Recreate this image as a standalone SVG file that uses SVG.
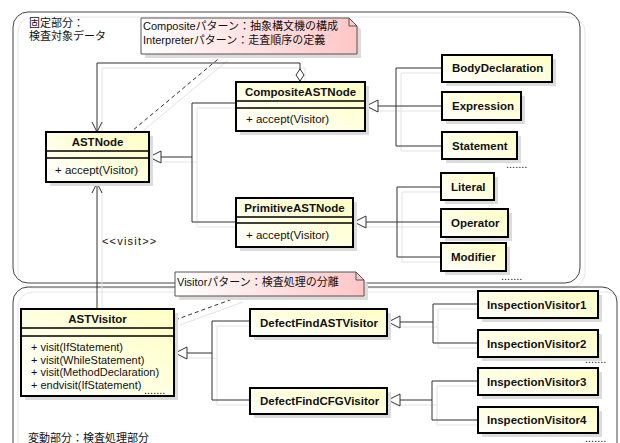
<svg xmlns="http://www.w3.org/2000/svg" width="620" height="443" viewBox="0 0 620 443">
  <style>
    .t{font-family:"Liberation Sans","Noto Sans CJK JP",sans-serif;font-size:11px;fill:#111}
    .c{font-size:11.5px}
    .b{font-weight:bold}
    .mid{text-anchor:middle}
    .box{fill:url(#cls);stroke:#000;stroke-width:2}
    .shd{fill:#dcdcdc}
    .sep{stroke:#000;stroke-width:1.5}
    .note{fill:url(#pink);stroke:#555;stroke-width:1}
    .fold{fill:none;stroke:#555;stroke-width:1}
    .conn{fill:none;stroke:#333;stroke-width:1}
    .dash{stroke-dasharray:4 3}
    .cshd{fill:none;stroke:#e3e3e3;stroke-width:1}
    .frame{fill:none;stroke:#444;stroke-width:1}
    .frameshd{fill:none;stroke:#e6e6e6;stroke-width:1}
  </style>
  <defs>
    <linearGradient id="cls" x1="0" y1="1" x2="1" y2="0">
      <stop offset="0" stop-color="#ffffff"/>
      <stop offset="1" stop-color="#ffffc2"/>
    </linearGradient>
    <linearGradient id="pink" x1="0" y1="0" x2="1" y2="0">
      <stop offset="0" stop-color="#ffffff"/>
      <stop offset="1" stop-color="#ffc6c6"/>
    </linearGradient>
    <marker id="tri" markerUnits="userSpaceOnUse" markerWidth="14" markerHeight="14" refX="12" refY="6" orient="auto" overflow="visible">
      <path d="M0,0 L12,6 L0,12 Z" fill="#fff" stroke="#333" stroke-width="1"/>
    </marker>
    <marker id="open" markerUnits="userSpaceOnUse" markerWidth="12" markerHeight="12" refX="10" refY="5" orient="auto" overflow="visible">
      <path d="M0,0 L10,5 L0,10" fill="none" stroke="#333" stroke-width="1"/>
    </marker>
    <marker id="dia" markerUnits="userSpaceOnUse" markerWidth="14" markerHeight="10" refX="0" refY="4" orient="auto" overflow="visible">
      <path d="M0,4 L6,0 L12,4 L6,8 Z" fill="#fff" stroke="#333" stroke-width="1"/>
    </marker>
  </defs>

  <rect width="620" height="443" fill="#fff"/>

  <!-- packages / frames -->
  <g id="frames">
    <rect class="frameshd" x="18" y="17" width="567" height="271" rx="15"/>
    <rect class="frameshd" x="18" y="292" width="604" height="180" rx="15"/>
    <rect class="frame" x="13" y="12" width="567" height="271" rx="15"/>
    <rect class="frame" x="13" y="287" width="604" height="180" rx="15"/>
    <text class="t" x="29" y="27">固定部分：</text>
    <text class="t" x="29" y="40">検査対象データ</text>
    <text class="t" x="28" y="442">変動部分：検査処理部分</text>
  </g>

  <!-- connectors -->
  <g id="connectors">
    <g class="cshd" transform="translate(5,5)">
      <path d="M300,81 V63 H97 V132"/>
      <path d="M97,309 V183"/>
      <path d="M192,157 H149 M236,103 H192 V222 H236"/>
      <path d="M442,106 H366 M442,68 H396 V146 H442"/>
      <path d="M441,222 H354 M441,187 H397 V257 H441"/>
      <path d="M212,353 H175 M250,321 H212 V400 H250"/>
      <path d="M433,322 H388 M478,304 H433 V343 H478"/>
      <path d="M432,400 H388 M478,381 H432 V420 H478"/>
      <path d="M223,55 L132,131"/>
      <path d="M238,297 L175,320"/>
    </g>
    <g class="conn">
      <!-- aggregation CompositeASTNode -> ASTNode -->
      <path d="M300,81 V63 H97 V132" marker-start="url(#dia)" marker-end="url(#open)"/>
      <!-- <<visit>> -->
      <path d="M97,309 V183" marker-end="url(#open)"/>
      <!-- generalizations -->
      <path d="M192,157 H149" marker-end="url(#tri)"/>
      <path d="M236,103 H192 V222 H236"/>
      <path d="M442,106 H366" marker-end="url(#tri)"/>
      <path d="M442,68 H396 V146 H442"/>
      <path d="M441,222 H354" marker-end="url(#tri)"/>
      <path d="M441,187 H397 V257 H441"/>
      <path d="M212,353 H175" marker-end="url(#tri)"/>
      <path d="M250,321 H212 V400 H250"/>
      <path d="M433,322 H388" marker-end="url(#tri)"/>
      <path d="M478,304 H433 V343 H478"/>
      <path d="M432,400 H388" marker-end="url(#tri)"/>
      <path d="M478,381 H432 V420 H478"/>
      <!-- note links -->
      <path class="dash" d="M223,55 L132,131"/>
      <path class="dash" d="M238,297 L175,320"/>
    </g>
    <text class="t" x="102" y="245" letter-spacing="1.2">&lt;&lt;visit&gt;&gt;</text>
  </g>

  <!-- classes -->
  <g id="ASTNode">
    <rect class="shd" x="50" y="136" width="103" height="50"/>
    <rect class="box" x="46" y="132" width="103" height="50"/>
    <path class="sep" d="M46,151 H149 M46,158 H149"/>
    <text class="t c b mid" x="97.5" y="146">ASTNode</text>
    <text class="t c" x="55" y="174">+ accept(Visitor)</text>
  </g>
  <g id="CompositeASTNode">
    <rect class="shd" x="240" y="86" width="129" height="49"/>
    <rect class="box" x="236" y="82" width="129" height="49"/>
    <path class="sep" d="M236,101 H365 M236,108 H365"/>
    <text class="t c b mid" x="300.5" y="95.5">CompositeASTNode</text>
    <text class="t c" x="246" y="123">+ accept(Visitor)</text>
  </g>
  <g id="PrimitiveASTNode">
    <rect class="shd" x="240" y="202" width="117" height="49"/>
    <rect class="box" x="236" y="198" width="117" height="49"/>
    <path class="sep" d="M236,217 H353 M236,223 H353"/>
    <text class="t c b mid" x="294.5" y="211.5">PrimitiveASTNode</text>
    <text class="t c" x="246" y="239">+ accept(Visitor)</text>
  </g>
  <g id="BodyDeclaration">
    <rect class="shd" x="446" y="59" width="110" height="27"/>
    <rect class="box" x="442" y="55" width="110" height="27"/>
    <text class="t c b" x="452" y="72">BodyDeclaration</text>
  </g>
  <g id="Expression">
    <rect class="shd" x="446" y="96" width="79" height="28"/>
    <rect class="box" x="442" y="92" width="79" height="28"/>
    <text class="t c b" x="452" y="110">Expression</text>
  </g>
  <g id="Statement">
    <rect class="shd" x="446" y="136" width="75" height="27"/>
    <rect class="box" x="442" y="132" width="75" height="27"/>
    <text class="t c b" x="452" y="149.5">Statement</text>
    <text class="t" x="506" y="168">.......</text>
  </g>
  <g id="Literal">
    <rect class="shd" x="445" y="177" width="53" height="27"/>
    <rect class="box" x="441" y="173" width="53" height="27"/>
    <text class="t c b" x="451" y="190.5">Literal</text>
  </g>
  <g id="Operator">
    <rect class="shd" x="445" y="213" width="67" height="28"/>
    <rect class="box" x="441" y="209" width="67" height="28"/>
    <text class="t c b" x="451" y="227">Operator</text>
  </g>
  <g id="Modifier">
    <rect class="shd" x="445" y="247" width="65" height="28"/>
    <rect class="box" x="441" y="243" width="65" height="28"/>
    <text class="t c b" x="451" y="261">Modifier</text>
    <text class="t" x="501" y="280">.......</text>
  </g>
  <g id="ASTVisitor">
    <rect class="shd" x="25" y="313" width="153" height="87"/>
    <rect class="box" x="21" y="309" width="153" height="87"/>
    <path class="sep" d="M21,328 H174 M21,336 H174"/>
    <text class="t c b mid" x="97.5" y="322.5">ASTVisitor</text>
    <text class="t" x="31" y="351">+ visit(IfStatement)</text>
    <text class="t" x="31" y="363.5">+ visit(WhileStatement)</text>
    <text class="t" x="31" y="376">+ visit(MethodDeclaration)</text>
    <text class="t" x="31" y="388.5">+ endvisit(IfStatement)</text>
    <text class="t" x="144" y="394">.......</text>
  </g>
  <g id="DefectFindASTVisitor">
    <rect class="shd" x="254" y="313" width="137" height="27"/>
    <rect class="box" x="250" y="309" width="137" height="27"/>
    <text class="t c b" x="260" y="326.5">DefectFindASTVisitor</text>
  </g>
  <g id="DefectFindCFGVisitor">
    <rect class="shd" x="254" y="392" width="137" height="26"/>
    <rect class="box" x="250" y="388" width="137" height="26"/>
    <text class="t c b" x="260" y="405">DefectFindCFGVisitor</text>
  </g>
  <g id="InspectionVisitor1">
    <rect class="shd" x="482" y="295" width="120" height="27"/>
    <rect class="box" x="478" y="291" width="120" height="27"/>
    <text class="t c b" x="487" y="308.5">InspectionVisitor1</text>
  </g>
  <g id="InspectionVisitor2">
    <rect class="shd" x="482" y="334" width="120" height="27"/>
    <rect class="box" x="478" y="330" width="120" height="27"/>
    <text class="t c b" x="487" y="347.5">InspectionVisitor2</text>
    <text class="t" x="585" y="363">.......</text>
  </g>
  <g id="InspectionVisitor3">
    <rect class="shd" x="482" y="372" width="120" height="27"/>
    <rect class="box" x="478" y="368" width="120" height="27"/>
    <text class="t c b" x="487" y="385.5">InspectionVisitor3</text>
  </g>
  <g id="InspectionVisitor4">
    <rect class="shd" x="482" y="411" width="120" height="26"/>
    <rect class="box" x="478" y="407" width="120" height="26"/>
    <text class="t c b" x="487" y="424">InspectionVisitor4</text>
    <text class="t" x="585" y="442">.......</text>
  </g>

  <!-- notes -->
  <g id="noteComposite">
    <path class="shd" d="M145,22 H353 L361,30 V58 H145 Z"/>
    <path class="note" d="M141,18 H349 L357,26 V54 H141 Z"/>
    <path class="fold" d="M349,18 V26 H357"/>
    <text class="t" x="143" y="30">Compositeパターン：抽象構文機の構成</text>
    <text class="t" x="143" y="43.5">Interpreterパターン：走査順序の定義</text>
  </g>
  <g id="noteVisitor">
    <path class="shd" d="M179,276 H360 L368,284 V300 H179 Z"/>
    <path class="note" d="M175,272 H356 L364,280 V296 H175 Z"/>
    <path class="fold" d="M356,272 V280 H364"/>
    <text class="t" x="177" y="285.5">Visitorパターン：検査処理の分離</text>
  </g>
</svg>
